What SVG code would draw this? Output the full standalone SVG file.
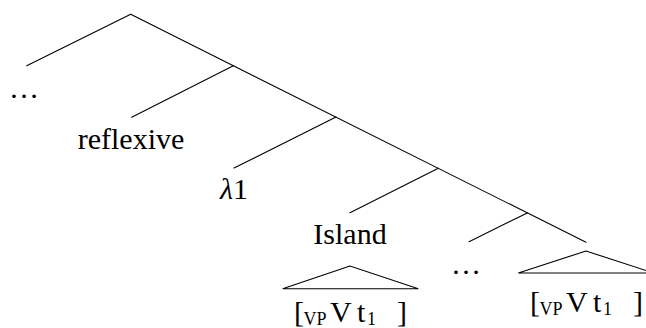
<svg xmlns="http://www.w3.org/2000/svg" width="646" height="328" viewBox="0 0 646 328">
  <style>
    .edge { stroke: #000; stroke-width: 1.1; fill: none; stroke-linecap: round; }
    .roof { stroke: #000; stroke-width: 1.1; fill: none; stroke-linejoin: miter; }
    .lbl { font-family: "Liberation Serif", "DejaVu Serif", serif; font-size: 30px; fill: #000; }
    .mid { text-anchor: middle; }
    .sub { font-size: 18px; }
    .it { font-style: italic; }
  </style>
  <rect width="646" height="328" fill="#fff"/>

  <!-- tree branches -->
  <g id="connectors">
    <line class="edge" x1="130.7" y1="14.3" x2="586" y2="242.3"/>
    <line class="edge" x1="130.7" y1="14.3" x2="26.7" y2="65.7"/>
    <line class="edge" x1="233.3" y1="65.7" x2="131.7" y2="117.3"/>
    <line class="edge" x1="336" y1="117.1" x2="234" y2="168"/>
    <line class="edge" x1="438.3" y1="168.3" x2="350" y2="212.7"/>
    <line class="edge" x1="527.3" y1="212.9" x2="469" y2="241.7"/>
  </g>

  <g id="node-dots-top">
    <text class="lbl mid" x="24" y="97.5">…</text>
  </g>

  <g id="node-reflexive">
    <text class="lbl mid" x="131" y="149">reflexive</text>
  </g>

  <g id="node-lambda">
    <text class="lbl mid" x="234" y="199"><tspan class="it">λ</tspan>1</text>
  </g>

  <g id="node-island">
    <text class="lbl mid" x="350" y="244">Island</text>
  </g>

  <g id="node-island-vp">
    <polygon class="roof" points="350,266 282.7,288.7 418.3,288.7"/>
    <text class="lbl" x="294" y="322">[</text>
    <text class="lbl sub" x="303.5" y="325">VP</text>
    <text class="lbl" x="330" y="322">V</text>
    <text class="lbl" x="357" y="322">t</text>
    <text class="lbl sub" x="367" y="325">1</text>
    <text class="lbl" x="397" y="322">]</text>
  </g>

  <g id="node-dots-bottom">
    <text class="lbl mid" x="466" y="274">…</text>
  </g>

  <g id="node-vp">
    <polygon class="roof" points="586,251 518.3,273 653.7,273"/>
    <text class="lbl" x="530" y="312">[</text>
    <text class="lbl sub" x="539.5" y="315">VP</text>
    <text class="lbl" x="566" y="312">V</text>
    <text class="lbl" x="593" y="312">t</text>
    <text class="lbl sub" x="603" y="315">1</text>
    <text class="lbl" x="633" y="312">]</text>
  </g>
</svg>
